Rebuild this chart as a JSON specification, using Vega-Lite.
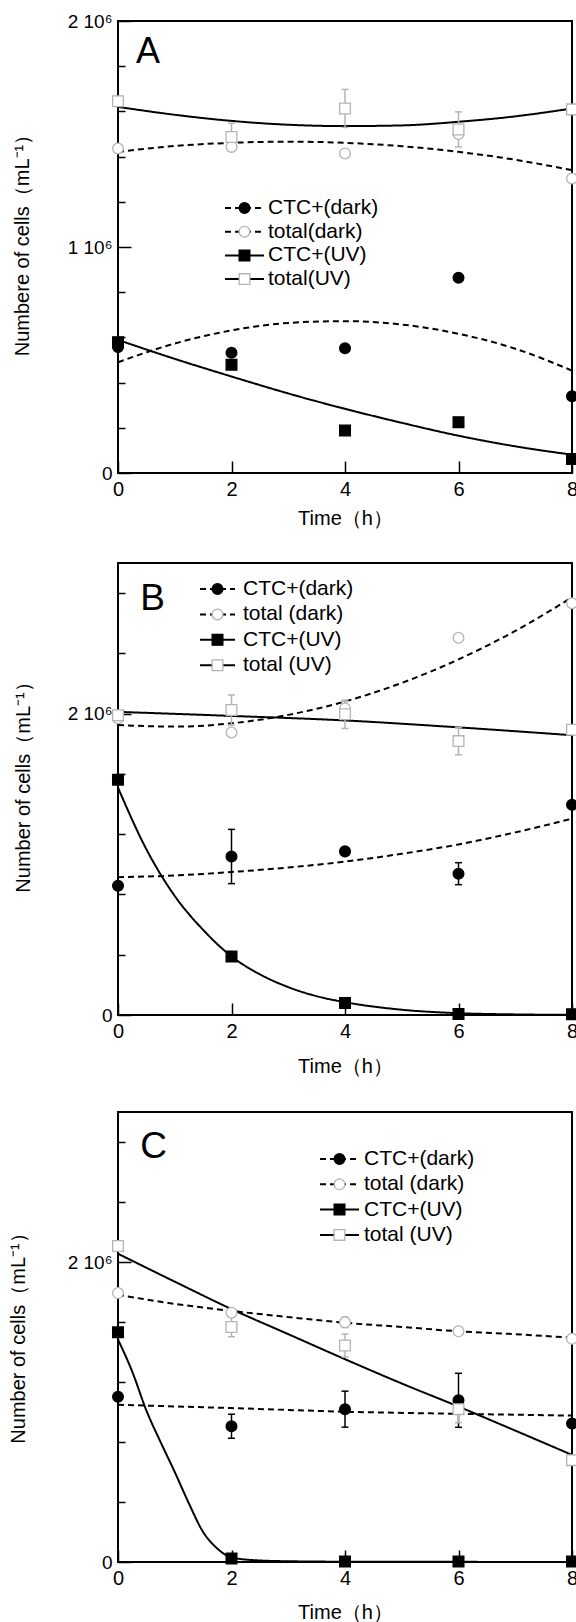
{
  "$schema": "https://vega.github.io/schema/vega-lite/v6.json",
  "padding": {"left": 7, "top": 11, "right": 0, "bottom": 0},
  "bounds": "flush",
  "spacing": 90,
  "config": {
    "view": {"stroke": "black", "strokeWidth": 2},
    "font": "Liberation Sans"
  },
  "resolve": {
    "scale": {"x": "independent", "y": "independent", "color": "independent", "fill": "independent", "stroke": "independent", "shape": "independent", "strokeDash": "independent"},
    "legend": {"color": "independent", "fill": "independent", "stroke": "independent", "shape": "independent", "strokeDash": "independent"}
  },
  "datasets": {
    "fitsA": [
      {"curve": "CTC+(dark) fit", "t": 0, "v": 490000}, {"curve": "CTC+(dark) fit", "t": 1, "v": 573000}, {"curve": "CTC+(dark) fit", "t": 2, "v": 631000}, {"curve": "CTC+(dark) fit", "t": 3, "v": 664000}, {"curve": "CTC+(dark) fit", "t": 4, "v": 672000}, {"curve": "CTC+(dark) fit", "t": 5, "v": 657000}, {"curve": "CTC+(dark) fit", "t": 6, "v": 616000}, {"curve": "CTC+(dark) fit", "t": 7, "v": 550000}, {"curve": "CTC+(dark) fit", "t": 8, "v": 453000},
      {"curve": "total(dark) fit", "t": 0, "v": 1421000}, {"curve": "total(dark) fit", "t": 1, "v": 1447000}, {"curve": "total(dark) fit", "t": 2, "v": 1461000}, {"curve": "total(dark) fit", "t": 3, "v": 1466000}, {"curve": "total(dark) fit", "t": 4, "v": 1461000}, {"curve": "total(dark) fit", "t": 5, "v": 1446000}, {"curve": "total(dark) fit", "t": 6, "v": 1421000}, {"curve": "total(dark) fit", "t": 7, "v": 1386000}, {"curve": "total(dark) fit", "t": 8, "v": 1340000},
      {"curve": "CTC+(UV) fit", "t": 0, "v": 589000}, {"curve": "CTC+(UV) fit", "t": 1, "v": 505000}, {"curve": "CTC+(UV) fit", "t": 2, "v": 427000}, {"curve": "CTC+(UV) fit", "t": 3, "v": 352000}, {"curve": "CTC+(UV) fit", "t": 4, "v": 284000}, {"curve": "CTC+(UV) fit", "t": 5, "v": 222000}, {"curve": "CTC+(UV) fit", "t": 6, "v": 165000}, {"curve": "CTC+(UV) fit", "t": 7, "v": 118000}, {"curve": "CTC+(UV) fit", "t": 8, "v": 81000},
      {"curve": "total(UV) fit", "t": 0, "v": 1620000}, {"curve": "total(UV) fit", "t": 1, "v": 1585000}, {"curve": "total(UV) fit", "t": 2, "v": 1558000}, {"curve": "total(UV) fit", "t": 3, "v": 1541000}, {"curve": "total(UV) fit", "t": 4, "v": 1535000}, {"curve": "total(UV) fit", "t": 5, "v": 1538000}, {"curve": "total(UV) fit", "t": 6, "v": 1554000}, {"curve": "total(UV) fit", "t": 7, "v": 1578000}, {"curve": "total(UV) fit", "t": 8, "v": 1613000}
    ],
    "pointsA": [
      {"series": "CTC+(dark)", "t": 0, "v": 557000}, {"series": "CTC+(dark)", "t": 2, "v": 532000}, {"series": "CTC+(dark)", "t": 4, "v": 552000}, {"series": "CTC+(dark)", "t": 6, "v": 864000}, {"series": "CTC+(dark)", "t": 8, "v": 340000},
      {"series": "total(dark)", "t": 0, "v": 1436000}, {"series": "total(dark)", "t": 2, "v": 1443000}, {"series": "total(dark)", "t": 4, "v": 1414000}, {"series": "total(dark)", "t": 6, "v": 1500000}, {"series": "total(dark)", "t": 8, "v": 1303000},
      {"series": "CTC+(UV)", "t": 0, "v": 579000}, {"series": "CTC+(UV)", "t": 2, "v": 479000}, {"series": "CTC+(UV)", "t": 4, "v": 188000}, {"series": "CTC+(UV)", "t": 6, "v": 225000}, {"series": "CTC+(UV)", "t": 8, "v": 62000},
      {"series": "total(UV)", "t": 0, "v": 1645000}, {"series": "total(UV)", "t": 2, "v": 1487000, "lo": 1427000, "hi": 1547000}, {"series": "total(UV)", "t": 4, "v": 1613000, "lo": 1529000, "hi": 1697000}, {"series": "total(UV)", "t": 6, "v": 1520000, "lo": 1443000, "hi": 1598000}, {"series": "total(UV)", "t": 8, "v": 1609000}
    ],
    "fitsB": [
      {"curve": "CTC+(dark) fit", "t": 0, "v": 915000}, {"curve": "CTC+(dark) fit", "t": 1, "v": 926000}, {"curve": "CTC+(dark) fit", "t": 2, "v": 949000}, {"curve": "CTC+(dark) fit", "t": 3, "v": 979000}, {"curve": "CTC+(dark) fit", "t": 4, "v": 1018000}, {"curve": "CTC+(dark) fit", "t": 5, "v": 1070000}, {"curve": "CTC+(dark) fit", "t": 6, "v": 1132000}, {"curve": "CTC+(dark) fit", "t": 7, "v": 1212000}, {"curve": "CTC+(dark) fit", "t": 8, "v": 1303000},
      {"curve": "total   (dark) fit", "t": 0, "v": 1925000}, {"curve": "total   (dark) fit", "t": 1, "v": 1914000}, {"curve": "total   (dark) fit", "t": 2, "v": 1936000}, {"curve": "total   (dark) fit", "t": 3, "v": 1992000}, {"curve": "total   (dark) fit", "t": 4, "v": 2081000}, {"curve": "total   (dark) fit", "t": 5, "v": 2204000}, {"curve": "total   (dark) fit", "t": 6, "v": 2360000}, {"curve": "total   (dark) fit", "t": 7, "v": 2549000}, {"curve": "total   (dark) fit", "t": 8, "v": 2772000},
      {"curve": "CTC+(UV) fit", "t": 0, "v": 1509000}, {"curve": "CTC+(UV) fit", "t": 0.5, "v": 1100000}, {"curve": "CTC+(UV) fit", "t": 1, "v": 790000}, {"curve": "CTC+(UV) fit", "t": 1.5, "v": 565000}, {"curve": "CTC+(UV) fit", "t": 2, "v": 389000}, {"curve": "CTC+(UV) fit", "t": 2.5, "v": 270000}, {"curve": "CTC+(UV) fit", "t": 3, "v": 185000}, {"curve": "CTC+(UV) fit", "t": 3.5, "v": 125000}, {"curve": "CTC+(UV) fit", "t": 4, "v": 85000}, {"curve": "CTC+(UV) fit", "t": 5, "v": 35000}, {"curve": "CTC+(UV) fit", "t": 6, "v": 12000}, {"curve": "CTC+(UV) fit", "t": 7, "v": 4000}, {"curve": "CTC+(UV) fit", "t": 8, "v": 1000},
      {"curve": "total   (UV) fit", "t": 0, "v": 2012000}, {"curve": "total   (UV) fit", "t": 2, "v": 1985000}, {"curve": "total   (UV) fit", "t": 4, "v": 1955000}, {"curve": "total   (UV) fit", "t": 6, "v": 1909000}, {"curve": "total   (UV) fit", "t": 8, "v": 1857000}
    ],
    "pointsB": [
      {"series": "CTC+(dark)", "t": 0, "v": 858000}, {"series": "CTC+(dark)", "t": 2, "v": 1052000, "lo": 872000, "hi": 1232000}, {"series": "CTC+(dark)", "t": 4, "v": 1086000}, {"series": "CTC+(dark)", "t": 6, "v": 938000, "lo": 865000, "hi": 1011000}, {"series": "CTC+(dark)", "t": 8, "v": 1395000},
      {"series": "total   (dark)", "t": 0, "v": 1970000}, {"series": "total   (dark)", "t": 2, "v": 1875000}, {"series": "total   (dark)", "t": 4, "v": 2035000, "lo": 1989000, "hi": 2081000}, {"series": "total   (dark)", "t": 6, "v": 2504000}, {"series": "total   (dark)", "t": 8, "v": 2733000},
      {"series": "CTC+(UV)", "t": 0, "v": 1562000}, {"series": "CTC+(UV)", "t": 2, "v": 389000}, {"series": "CTC+(UV)", "t": 4, "v": 80000}, {"series": "CTC+(UV)", "t": 6, "v": 7000, "lo": 0, "hi": 37000}, {"series": "CTC+(UV)", "t": 8, "v": 5000},
      {"series": "total   (UV)", "t": 0, "v": 1990000}, {"series": "total   (UV)", "t": 2, "v": 2024000, "lo": 1924000, "hi": 2124000}, {"series": "total   (UV)", "t": 4, "v": 1996000, "lo": 1902000, "hi": 2090000}, {"series": "total   (UV)", "t": 6, "v": 1818000, "lo": 1727000, "hi": 1909000}, {"series": "total   (UV)", "t": 8, "v": 1893000}
    ],
    "fitsC": [
      {"curve": "CTC+(dark) fit", "t": 0, "v": 1048000}, {"curve": "CTC+(dark) fit", "t": 2, "v": 1026000}, {"curve": "CTC+(dark) fit", "t": 4, "v": 1002000}, {"curve": "CTC+(dark) fit", "t": 6, "v": 988000}, {"curve": "CTC+(dark) fit", "t": 8, "v": 976000},
      {"curve": "total   (dark) fit", "t": 0, "v": 1781000}, {"curve": "total   (dark) fit", "t": 1, "v": 1721000}, {"curve": "total   (dark) fit", "t": 2, "v": 1674000}, {"curve": "total   (dark) fit", "t": 3, "v": 1633000}, {"curve": "total   (dark) fit", "t": 4, "v": 1595000}, {"curve": "total   (dark) fit", "t": 5, "v": 1567000}, {"curve": "total   (dark) fit", "t": 6, "v": 1538000}, {"curve": "total   (dark) fit", "t": 7, "v": 1519000}, {"curve": "total   (dark) fit", "t": 8, "v": 1495000},
      {"curve": "CTC+(UV) fit", "t": 0, "v": 1483000}, {"curve": "CTC+(UV) fit", "t": 0.25, "v": 1270000}, {"curve": "CTC+(UV) fit", "t": 0.5, "v": 1010000}, {"curve": "CTC+(UV) fit", "t": 0.75, "v": 800000}, {"curve": "CTC+(UV) fit", "t": 1, "v": 600000}, {"curve": "CTC+(UV) fit", "t": 1.25, "v": 390000}, {"curve": "CTC+(UV) fit", "t": 1.5, "v": 200000}, {"curve": "CTC+(UV) fit", "t": 1.75, "v": 90000}, {"curve": "CTC+(UV) fit", "t": 2, "v": 30000}, {"curve": "CTC+(UV) fit", "t": 2.5, "v": 10000}, {"curve": "CTC+(UV) fit", "t": 3, "v": 5000}, {"curve": "CTC+(UV) fit", "t": 4, "v": 2000}, {"curve": "CTC+(UV) fit", "t": 6, "v": 1000}, {"curve": "CTC+(UV) fit", "t": 8, "v": 0},
      {"curve": "total   (UV) fit", "t": 0, "v": 2055000}, {"curve": "total   (UV) fit", "t": 1, "v": 1869000}, {"curve": "total   (UV) fit", "t": 2, "v": 1686000}, {"curve": "total   (UV) fit", "t": 3, "v": 1519000}, {"curve": "total   (UV) fit", "t": 4, "v": 1352000}, {"curve": "total   (UV) fit", "t": 5, "v": 1190000}, {"curve": "total   (UV) fit", "t": 6, "v": 1036000}, {"curve": "total   (UV) fit", "t": 7, "v": 876000}, {"curve": "total   (UV) fit", "t": 8, "v": 714000}
    ],
    "pointsC": [
      {"series": "CTC+(dark)", "t": 0, "v": 1102000}, {"series": "CTC+(dark)", "t": 2, "v": 905000, "lo": 825000, "hi": 985000}, {"series": "CTC+(dark)", "t": 4, "v": 1019000, "lo": 899000, "hi": 1139000}, {"series": "CTC+(dark)", "t": 6, "v": 1078000, "lo": 898000, "hi": 1258000}, {"series": "CTC+(dark)", "t": 8, "v": 924000},
      {"series": "total   (dark)", "t": 0, "v": 1793000}, {"series": "total   (dark)", "t": 2, "v": 1662000, "lo": 1642000, "hi": 1682000}, {"series": "total   (dark)", "t": 4, "v": 1598000, "lo": 1563000, "hi": 1633000}, {"series": "total   (dark)", "t": 6, "v": 1538000}, {"series": "total   (dark)", "t": 8, "v": 1488000},
      {"series": "CTC+(UV)", "t": 0, "v": 1531000}, {"series": "CTC+(UV)", "t": 2, "v": 24000}, {"series": "CTC+(UV)", "t": 4, "v": 3000}, {"series": "CTC+(UV)", "t": 6, "v": 3000}, {"series": "CTC+(UV)", "t": 8, "v": 3000},
      {"series": "total   (UV)", "t": 0, "v": 2107000}, {"series": "total   (UV)", "t": 2, "v": 1567000, "lo": 1502000, "hi": 1632000}, {"series": "total   (UV)", "t": 4, "v": 1443000, "lo": 1366000, "hi": 1520000}, {"series": "total   (UV)", "t": 6, "v": 1019000, "lo": 929000, "hi": 1109000}, {"series": "total   (UV)", "t": 8, "v": 679000}
    ]
  },
  "vconcat": [
    {
      "width": 454, "height": 452,
      "layer": [
        {
          "data": {"name": "fitsA"},
          "mark": {"type": "line", "color": "black", "strokeWidth": 2, "interpolate": "monotone"},
          "encoding": {
            "x": {"field": "t", "type": "quantitative", "scale": {"domain": [0, 8], "nice": false},
              "axis": {"values": [0, 2, 4, 6, 8], "format": "d", "tickSize": -12, "tickWidth": 1.5, "tickColor": "black", "domain": false, "grid": false, "labelFontSize": 20, "labelFont": "Liberation Sans", "labelColor": "black", "labelPadding": 18, "labelFlush": false, "labelOverlap": false, "title": "Time（h）", "titleFontSize": 20, "titleFont": "Liberation Sans", "titleFontWeight": "normal", "titleColor": "black", "titleY": 45, "titleBaseline": "middle"}},
            "y": {"field": "v", "type": "quantitative", "scale": {"domain": [0, 2000000], "nice": false},
              "axis": {"values": [0, 100000, 200000, 300000, 400000, 500000, 600000, 700000, 800000, 900000, 1000000, 1100000, 1200000, 1300000, 1400000, 1500000, 1600000, 1700000, 1800000, 1900000, 2000000],
                "labelExpr": "datum.value == 0 ? '0' : (datum.value % 1000000 == 0 ? (datum.value / 1000000) + ' 10⁶' : '')",
                "tickSize": {"condition": {"test": "datum.value % 1000000 == 0", "value": -13}, "value": -7},
                "tickWidth": 1.5, "tickColor": "black", "domain": false, "grid": false, "labelFontSize": 19, "labelFont": "Liberation Sans", "labelColor": "black", "labelPadding": 19, "labelFlush": false, "labelOverlap": false, "labelBaseline": "middle",
                "title": "Numbere of cells（mL⁻¹）", "titleFontSize": 20, "titleFont": "Liberation Sans", "titleFontWeight": "normal", "titleColor": "black", "titleX": -96, "titleY": 219, "titleBaseline": "middle", "titleAngle": -90}},
            "strokeDash": {"field": "curve", "type": "nominal", "scale": {"domain": ["CTC+(dark) fit", "total(dark) fit", "CTC+(UV) fit", "total(UV) fit"], "range": [[6, 4], [6, 4], [1, 0], [1, 0]]},
              "legend": {"orient": "none", "legendX": 106, "legendY": 176.5, "title": null, "padding": 0, "clipHeight": 21, "symbolType": "stroke", "symbolSize": 1521, "symbolStrokeWidth": 2, "symbolStrokeColor": "black", "labelExpr": "replace(datum.label, ' fit', '')", "labelFontSize": 21, "labelFont": "Liberation Sans", "labelColor": "black", "labelOffset": 3, "rowPadding": 1.7, "zindex": 0}}
          }
        },
        {
          "data": {"name": "pointsA"},
          "transform": [{"filter": "isValid(datum.hi)"}],
          "mark": {"type": "rule", "strokeWidth": 1.5},
          "encoding": {
            "x": {"field": "t", "type": "quantitative"},
            "y": {"field": "lo", "type": "quantitative"},
            "y2": {"field": "hi"},
            "color": {"field": "series", "type": "nominal", "scale": {"domain": ["CTC+(dark)", "CTC+(UV)", "total(dark)", "total(UV)"], "range": ["black", "black", "#b4b4b4", "#b4b4b4"]}, "legend": null}
          }
        },
        {
          "data": {"name": "pointsA"},
          "transform": [{"filter": "isValid(datum.hi)"}],
          "mark": {"type": "tick", "orient": "horizontal", "size": 7, "thickness": 1.5, "opacity": 1},
          "encoding": {
            "x": {"field": "t", "type": "quantitative"},
            "y": {"field": "hi", "type": "quantitative"},
            "color": {"field": "series", "type": "nominal", "legend": null}
          }
        },
        {
          "data": {"name": "pointsA"},
          "transform": [{"filter": "isValid(datum.lo)"}],
          "mark": {"type": "tick", "orient": "horizontal", "size": 7, "thickness": 1.5, "opacity": 1},
          "encoding": {
            "x": {"field": "t", "type": "quantitative"},
            "y": {"field": "lo", "type": "quantitative"},
            "color": {"field": "series", "type": "nominal", "legend": null}
          }
        },
        {
          "data": {"name": "pointsA"},
          "mark": {"type": "point", "size": 115, "strokeWidth": 1.3, "opacity": 1},
          "encoding": {
            "x": {"field": "t", "type": "quantitative"},
            "y": {"field": "v", "type": "quantitative"},
            "shape": {"field": "series", "type": "nominal", "scale": {"domain": ["CTC+(dark)", "total(dark)", "CTC+(UV)", "total(UV)"], "range": ["circle", "circle", "square", "square"]},
              "legend": {"orient": "none", "legendX": 106, "legendY": 176.5, "title": null, "padding": 0, "clipHeight": 21, "symbolSize": 115, "symbolStrokeWidth": 1.3, "symbolOffset": 10, "labelExpr": "''", "labelFontSize": 21, "labelFont": "Liberation Sans", "labelColor": "black", "labelOffset": 3, "rowPadding": 1.7, "zindex": 1}},
            "fill": {"field": "series", "type": "nominal", "scale": {"domain": ["CTC+(dark)", "total(dark)", "CTC+(UV)", "total(UV)"], "range": ["black", "white", "black", "white"]}},
            "stroke": {"field": "series", "type": "nominal", "scale": {"domain": ["CTC+(dark)", "total(dark)", "CTC+(UV)", "total(UV)"], "range": ["black", "#b4b4b4", "black", "#b4b4b4"]}}
          }
        },
        {
          "data": {"values": [{"panel": "A"}]},
          "mark": {"type": "text", "fontSize": 36, "font": "Liberation Sans", "align": "left", "baseline": "alphabetic", "color": "black"},
          "encoding": {
            "x": {"datum": 0.317, "type": "quantitative"},
            "y": {"datum": 1814000, "type": "quantitative"},
            "text": {"field": "panel"}
          }
        }
      ]
    },
    {
      "bounds": "flush",
      "spacing": 97,
      "resolve": {
        "scale": {"x": "independent", "y": "independent", "color": "independent", "fill": "independent", "stroke": "independent", "shape": "independent", "strokeDash": "independent"},
        "legend": {"color": "independent", "fill": "independent", "stroke": "independent", "shape": "independent", "strokeDash": "independent"}
      },
      "vconcat": [
        {
          "width": 454, "height": 452,
          "layer": [
            {
              "data": {"name": "fitsB"},
              "mark": {"type": "line", "color": "black", "strokeWidth": 2, "interpolate": "monotone"},
              "encoding": {
                "x": {"field": "t", "type": "quantitative", "scale": {"domain": [0, 8], "nice": false},
                  "axis": {"values": [0, 2, 4, 6, 8], "format": "d", "tickSize": -12, "tickWidth": 1.5, "tickColor": "black", "domain": false, "grid": false, "labelFontSize": 20, "labelFont": "Liberation Sans", "labelColor": "black", "labelPadding": 18, "labelFlush": false, "labelOverlap": false, "title": "Time（h）", "titleFontSize": 20, "titleFont": "Liberation Sans", "titleFontWeight": "normal", "titleColor": "black", "titleY": 51, "titleBaseline": "middle"}},
                "y": {"field": "v", "type": "quantitative", "scale": {"domain": [0, 3000000], "nice": false},
                  "axis": {"values": [0, 100000, 200000, 300000, 400000, 500000, 600000, 700000, 800000, 900000, 1000000, 1100000, 1200000, 1300000, 1400000, 1500000, 1600000, 1700000, 1800000, 1900000, 2000000, 2100000, 2200000, 2300000, 2400000, 2500000, 2600000, 2700000, 2800000, 2900000, 3000000],
                    "labelExpr": "datum.value == 0 ? '0' : (datum.value % 1000000 == 0 ? (datum.value / 1000000) + ' 10⁶' : '')",
                    "tickSize": {"condition": {"test": "datum.value % 1000000 == 0", "value": -13}, "value": -7},
                    "tickWidth": 1.5, "tickColor": "black", "domain": false, "grid": false, "labelFontSize": 19, "labelFont": "Liberation Sans", "labelColor": "black", "labelPadding": 19, "labelFlush": false, "labelOverlap": false, "labelBaseline": "middle",
                    "title": "Number of cells（mL⁻¹）", "titleFontSize": 20, "titleFont": "Liberation Sans", "titleFontWeight": "normal", "titleColor": "black", "titleX": -95, "titleY": 219, "titleBaseline": "middle", "titleAngle": -90}},
                "strokeDash": {"field": "curve", "type": "nominal", "scale": {"domain": ["CTC+(dark) fit", "total   (dark) fit", "CTC+(UV) fit", "total   (UV) fit"], "range": [[6, 4], [6, 4], [1, 0], [1, 0]]},
                  "legend": {"orient": "none", "legendX": 81, "legendY": 15.5, "title": null, "padding": 0, "clipHeight": 21, "symbolType": "stroke", "symbolSize": 1225, "symbolStrokeWidth": 2, "symbolStrokeColor": "black", "labelExpr": "replace(datum.label, ' fit', '')", "labelFontSize": 21, "labelFont": "Liberation Sans", "labelColor": "black", "labelOffset": 7, "rowPadding": 3.4, "zindex": 0}}
              }
            },
            {
              "data": {"name": "pointsB"},
              "transform": [{"filter": "isValid(datum.hi)"}],
              "mark": {"type": "rule", "strokeWidth": 1.5},
              "encoding": {
                "x": {"field": "t", "type": "quantitative"},
                "y": {"field": "lo", "type": "quantitative"},
                "y2": {"field": "hi"},
                "color": {"field": "series", "type": "nominal", "scale": {"domain": ["CTC+(dark)", "CTC+(UV)", "total   (dark)", "total   (UV)"], "range": ["black", "black", "#b4b4b4", "#b4b4b4"]}, "legend": null}
              }
            },
            {
              "data": {"name": "pointsB"},
              "transform": [{"filter": "isValid(datum.hi)"}],
              "mark": {"type": "tick", "orient": "horizontal", "size": 7, "thickness": 1.5, "opacity": 1},
              "encoding": {
                "x": {"field": "t", "type": "quantitative"},
                "y": {"field": "hi", "type": "quantitative"},
                "color": {"field": "series", "type": "nominal", "legend": null}
              }
            },
            {
              "data": {"name": "pointsB"},
              "transform": [{"filter": "isValid(datum.lo)"}],
              "mark": {"type": "tick", "orient": "horizontal", "size": 7, "thickness": 1.5, "opacity": 1},
              "encoding": {
                "x": {"field": "t", "type": "quantitative"},
                "y": {"field": "lo", "type": "quantitative"},
                "color": {"field": "series", "type": "nominal", "legend": null}
              }
            },
            {
              "data": {"name": "pointsB"},
              "mark": {"type": "point", "size": 115, "strokeWidth": 1.3, "opacity": 1},
              "encoding": {
                "x": {"field": "t", "type": "quantitative"},
                "y": {"field": "v", "type": "quantitative"},
                "shape": {"field": "series", "type": "nominal", "scale": {"domain": ["CTC+(dark)", "total   (dark)", "CTC+(UV)", "total   (UV)"], "range": ["circle", "circle", "square", "square"]},
                  "legend": {"orient": "none", "legendX": 81, "legendY": 15.5, "title": null, "padding": 0, "clipHeight": 21, "symbolSize": 115, "symbolStrokeWidth": 1.3, "symbolOffset": 8, "labelExpr": "''", "labelFontSize": 21, "labelFont": "Liberation Sans", "labelColor": "black", "labelOffset": 7, "rowPadding": 3.4, "zindex": 1}},
                "fill": {"field": "series", "type": "nominal", "scale": {"domain": ["CTC+(dark)", "total   (dark)", "CTC+(UV)", "total   (UV)"], "range": ["black", "white", "black", "white"]}},
                "stroke": {"field": "series", "type": "nominal", "scale": {"domain": ["CTC+(dark)", "total   (dark)", "CTC+(UV)", "total   (UV)"], "range": ["black", "#b4b4b4", "black", "#b4b4b4"]}}
              }
            },
            {
              "data": {"values": [{"panel": "B"}]},
              "mark": {"type": "text", "fontSize": 37, "font": "Liberation Sans", "align": "left", "baseline": "alphabetic", "color": "black"},
              "encoding": {
                "x": {"datum": 0.39, "type": "quantitative"},
                "y": {"datum": 2688000, "type": "quantitative"},
                "text": {"field": "panel"}
              }
            }
          ]
        },
        {
          "width": 454, "height": 450,
          "layer": [
            {
              "data": {"name": "fitsC"},
              "mark": {"type": "line", "color": "black", "strokeWidth": 2, "interpolate": "monotone"},
              "encoding": {
                "x": {"field": "t", "type": "quantitative", "scale": {"domain": [0, 8], "nice": false},
                  "axis": {"values": [0, 2, 4, 6, 8], "format": "d", "tickSize": -12, "tickWidth": 1.5, "tickColor": "black", "domain": false, "grid": false, "labelFontSize": 20, "labelFont": "Liberation Sans", "labelColor": "black", "labelPadding": 18, "labelFlush": false, "labelOverlap": false, "title": "Time（h）", "titleFontSize": 20, "titleFont": "Liberation Sans", "titleFontWeight": "normal", "titleColor": "black", "titleY": 50, "titleBaseline": "middle"}},
                "y": {"field": "v", "type": "quantitative", "scale": {"domain": [0, 3000000], "nice": false},
                  "axis": {"values": [0, 100000, 200000, 300000, 400000, 500000, 600000, 700000, 800000, 900000, 1000000, 1100000, 1200000, 1300000, 1400000, 1500000, 1600000, 1700000, 1800000, 1900000, 2000000, 2100000, 2200000, 2300000, 2400000, 2500000, 2600000, 2700000, 2800000, 2900000, 3000000],
                    "labelExpr": "datum.value == 0 ? '0' : (datum.value % 1000000 == 0 ? (datum.value / 1000000) + ' 10⁶' : '')",
                    "tickSize": {"condition": {"test": "datum.value % 1000000 == 0", "value": -13}, "value": -7},
                    "tickWidth": 1.5, "tickColor": "black", "domain": false, "grid": false, "labelFontSize": 19, "labelFont": "Liberation Sans", "labelColor": "black", "labelPadding": 19, "labelFlush": false, "labelOverlap": false, "labelBaseline": "middle",
                    "title": "Number of cells（mL⁻¹）", "titleFontSize": 20, "titleFont": "Liberation Sans", "titleFontWeight": "normal", "titleColor": "black", "titleX": -100, "titleY": 221, "titleBaseline": "middle", "titleAngle": -90}},
                "strokeDash": {"field": "curve", "type": "nominal", "scale": {"domain": ["CTC+(dark) fit", "total   (dark) fit", "CTC+(UV) fit", "total   (UV) fit"], "range": [[6, 4], [6, 4], [1, 0], [1, 0]]},
                  "legend": {"orient": "none", "legendX": 201, "legendY": 36.5, "title": null, "padding": 0, "clipHeight": 21, "symbolType": "stroke", "symbolSize": 1521, "symbolStrokeWidth": 2, "symbolStrokeColor": "black", "labelExpr": "replace(datum.label, ' fit', '')", "labelFontSize": 21, "labelFont": "Liberation Sans", "labelColor": "black", "labelOffset": 4, "rowPadding": 3.3, "zindex": 0}}
              }
            },
            {
              "data": {"name": "pointsC"},
              "transform": [{"filter": "isValid(datum.hi)"}],
              "mark": {"type": "rule", "strokeWidth": 1.5},
              "encoding": {
                "x": {"field": "t", "type": "quantitative"},
                "y": {"field": "lo", "type": "quantitative"},
                "y2": {"field": "hi"},
                "color": {"field": "series", "type": "nominal", "scale": {"domain": ["CTC+(dark)", "CTC+(UV)", "total   (dark)", "total   (UV)"], "range": ["black", "black", "#b4b4b4", "#b4b4b4"]}, "legend": null}
              }
            },
            {
              "data": {"name": "pointsC"},
              "transform": [{"filter": "isValid(datum.hi)"}],
              "mark": {"type": "tick", "orient": "horizontal", "size": 7, "thickness": 1.5, "opacity": 1},
              "encoding": {
                "x": {"field": "t", "type": "quantitative"},
                "y": {"field": "hi", "type": "quantitative"},
                "color": {"field": "series", "type": "nominal", "legend": null}
              }
            },
            {
              "data": {"name": "pointsC"},
              "transform": [{"filter": "isValid(datum.lo)"}],
              "mark": {"type": "tick", "orient": "horizontal", "size": 7, "thickness": 1.5, "opacity": 1},
              "encoding": {
                "x": {"field": "t", "type": "quantitative"},
                "y": {"field": "lo", "type": "quantitative"},
                "color": {"field": "series", "type": "nominal", "legend": null}
              }
            },
            {
              "data": {"name": "pointsC"},
              "mark": {"type": "point", "size": 115, "strokeWidth": 1.3, "opacity": 1},
              "encoding": {
                "x": {"field": "t", "type": "quantitative"},
                "y": {"field": "v", "type": "quantitative"},
                "shape": {"field": "series", "type": "nominal", "scale": {"domain": ["CTC+(dark)", "total   (dark)", "CTC+(UV)", "total   (UV)"], "range": ["circle", "circle", "square", "square"]},
                  "legend": {"orient": "none", "legendX": 201, "legendY": 36.5, "title": null, "padding": 0, "clipHeight": 21, "symbolSize": 115, "symbolStrokeWidth": 1.3, "symbolOffset": 10, "labelExpr": "''", "labelFontSize": 21, "labelFont": "Liberation Sans", "labelColor": "black", "labelOffset": 4, "rowPadding": 3.3, "zindex": 1}},
                "fill": {"field": "series", "type": "nominal", "scale": {"domain": ["CTC+(dark)", "total   (dark)", "CTC+(UV)", "total   (UV)"], "range": ["black", "white", "black", "white"]}},
                "stroke": {"field": "series", "type": "nominal", "scale": {"domain": ["CTC+(dark)", "total   (dark)", "CTC+(UV)", "total   (UV)"], "range": ["black", "#b4b4b4", "black", "#b4b4b4"]}}
              }
            },
            {
              "data": {"values": [{"panel": "C"}]},
              "mark": {"type": "text", "fontSize": 37, "font": "Liberation Sans", "align": "left", "baseline": "alphabetic", "color": "black"},
              "encoding": {
                "x": {"datum": 0.39, "type": "quantitative"},
                "y": {"datum": 2693000, "type": "quantitative"},
                "text": {"field": "panel"}
              }
            }
          ]
        }
      ]
    }
  ]
}
